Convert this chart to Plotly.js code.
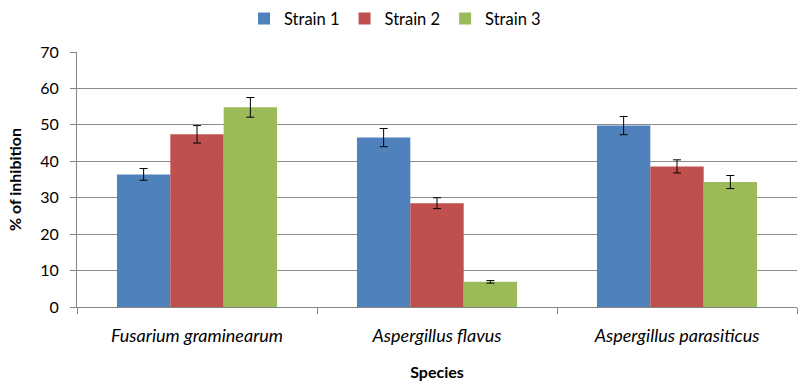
<!DOCTYPE html>
<html><head><meta charset="utf-8">
<script src="https://cdn.plot.ly/plotly-3.0.1.min.js"></script>
<style>html,body{margin:0;padding:0;background:#fff}</style>
</head><body>
<div id="chart" style="width:807px;height:388px"></div>
<script>
const species = ["Fusarium graminearum", "Aspergillus flavus", "Aspergillus parasiticus"];
const seriesNames = ["Strain 1", "Strain 2", "Strain 3"];
const strain1 = [36.4, 46.5, 49.8];
const strain2 = [47.4, 28.5, 38.6];
const strain3 = [54.8, 6.9, 34.3];
const err1 = [1.6, 2.5, 2.5];
const err2 = [2.4, 1.5, 1.8];
const err3 = [2.7, 0.35, 1.8];
const colors = ["#4F81BD", "#C0504D", "#9BBB59"];
const yTicks = [0, 10, 20, 30, 40, 50, 60, 70];

const values = [strain1, strain2, strain3];
const errs = [err1, err2, err3];
const font = "Lato, Liberation Sans, sans-serif";
const traces = seriesNames.map((n, i) => ({
  type: "bar", name: n, x: species, y: values[i],
  marker: {color: colors[i]},
  error_y: {type: "data", array: errs[i], visible: true, color: "#000", thickness: 1, width: 4}
}));
const layout = {
  width: 807, height: 388,
  margin: {l: 77, r: 10, t: 52, b: 81},
  paper_bgcolor: "#fff", plot_bgcolor: "#fff",
  font: {family: font, size: 16, color: "#000"},
  barmode: "group", bargap: 0.333, bargroupgap: 0,
  showlegend: true,
  legend: {orientation: "h", x: 0.232, xanchor: "left", y: 0.997, yref: "container", yanchor: "top",
           font: {size: 16.5}, itemwidth: 30, traceorder: "normal"},
  xaxis: {
    tickson: "boundaries", ticks: "outside", ticklen: 6, tickcolor: "#868686",
    showline: true, linecolor: "#868686", linewidth: 1, showgrid: false,
    tickfont: {size: 18, style: "italic"}, ticklabelstandoff: 12,
    title: {text: "<b>Species</b>", font: {size: 16}, standoff: 22}
  },
  yaxis: {
    range: [0, 70], tickvals: yTicks, ticktext: yTicks.map(String),
    ticks: "outside", ticklen: 6, tickcolor: "#868686",
    showline: true, linecolor: "#868686", linewidth: 1,
    showgrid: true, gridcolor: "#8c8c8c", gridwidth: 1, zeroline: false,
    tickfont: {size: 16}, ticklabelstandoff: 8,
    title: {text: "<b>% of inhibition</b>", font: {size: 16}, standoff: 14}
  }
};
Plotly.newPlot("chart", traces, layout, {displayModeBar: false, staticPlot: true});
</script>
</body></html>
